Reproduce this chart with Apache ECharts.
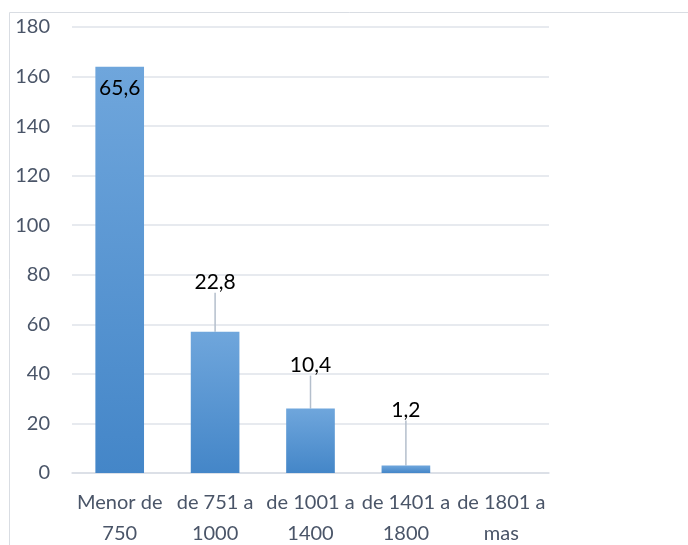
<!DOCTYPE html>
<html><head><meta charset="utf-8">
<script src="https://cdn.jsdelivr.net/npm/echarts@6/dist/echarts.min.js"></script>
<style>html,body{margin:0;padding:0;background:#fff}#c{width:688px;height:545px}</style>
</head><body><div id="c"></div>
<script>
const categories = ['Menor de\n750', 'de 751 a\n1000', 'de 1001 a\n1400', 'de 1401 a\n1800', 'de 1801 a\nmas'];
const values = [164, 57, 26, 3, 0];
const percentLabels = ['65,6', '22,8', '10,4', '1,2', ''];
const yTicks = { min: 0, max: 180, interval: 20 };

// label offsets above bar tops (style, not data)
const labelLift = [null, 54, 48, 60, null];

const chart = echarts.init(document.getElementById('c'));
const FONT = 'Lato';
const seriesData = values.map((v, i) => {
  const has = percentLabels[i] !== '';
  return { value: v, label: { show: has }, labelLine: { show: has && labelLift[i] != null } };
});
chart.setOption({
  animation: false,
  graphic: [{
    type: 'rect', shape: { x: 9.5, y: 12.5, width: 700, height: 560 },
    style: { fill: 'none', stroke: '#d9dde3', lineWidth: 1 }, silent: true, z: -1
  }],
  grid: { left: 72, right: 139, top: 27, bottom: 72, containLabel: false, outerBoundsMode: 'none' },
  xAxis: {
    type: 'category', data: categories,
    axisLine: { lineStyle: { color: '#d9dde5', width: 1.5 } },
    axisTick: { show: false },
    axisLabel: { interval: 0, color: '#4a5568', fontFamily: FONT, fontSize: 20, lineHeight: 31, margin: 14 }
  },
  yAxis: {
    type: 'value', min: yTicks.min, max: yTicks.max, interval: yTicks.interval,
    axisLine: { show: false }, axisTick: { show: false },
    splitLine: { lineStyle: { color: '#dfe3ea', width: 1.5 } },
    axisLabel: { color: '#4a5568', fontFamily: FONT, fontSize: 20, margin: 22 }
  },
  series: [{
    type: 'bar', data: seriesData, barWidth: '51%',
    itemStyle: {
      color: new echarts.graphic.LinearGradient(0, 0, 0, 1, [
        { offset: 0, color: '#6fa6dc' }, { offset: 1, color: '#4486c8' }
      ])
    },
    label: {
      position: 'insideTop', distance: 11,
      color: '#000', fontFamily: FONT, fontSize: 21,
      padding: [0, 0, 9, 0],
      formatter: p => percentLabels[p.dataIndex]
    },
    labelLine: { lineStyle: { color: '#b4bfcc', width: 1.5 } },
    labelLayout: function (params) {
      const lift = labelLift[params.dataIndex];
      if (lift == null) return {};
      return {
        x: params.rect.x + params.rect.width / 2,
        y: params.rect.y - lift + 4.5,
        align: 'center', verticalAlign: 'middle'
      };
    }
  }]
});
</script></body></html>
